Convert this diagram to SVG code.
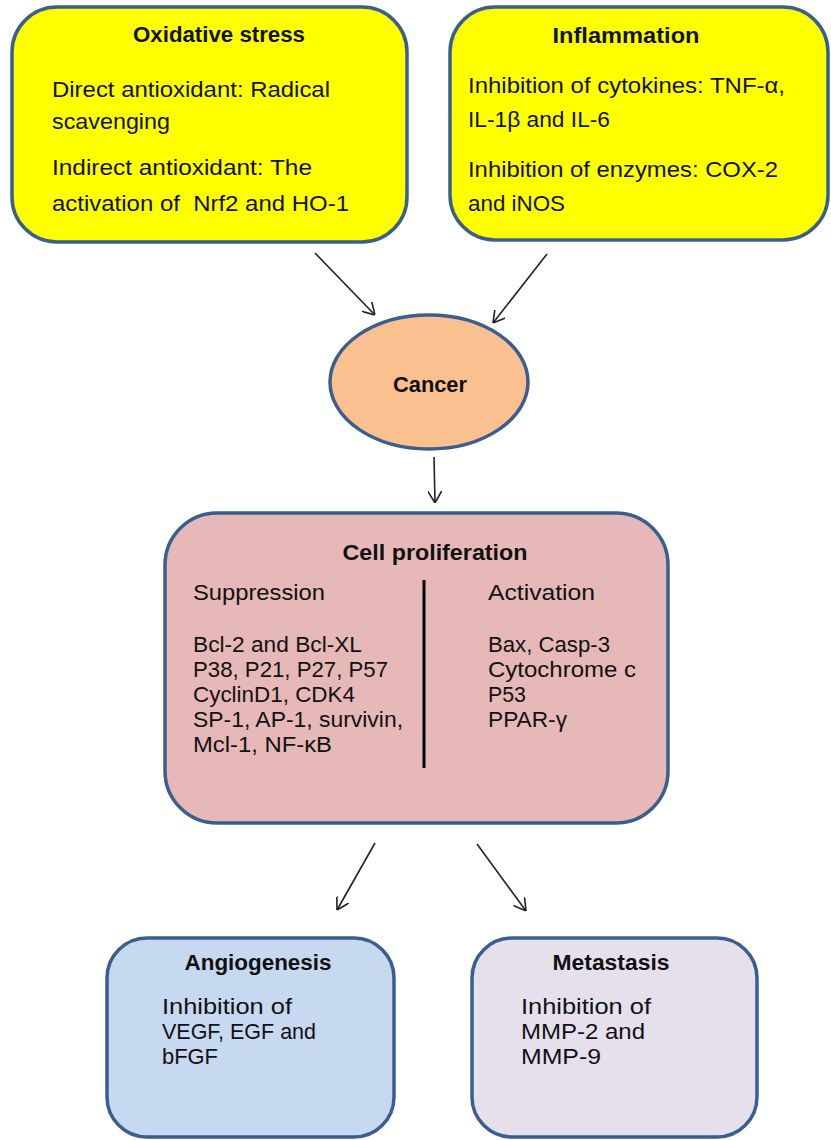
<svg xmlns="http://www.w3.org/2000/svg" width="831" height="1140" viewBox="0 0 831 1140">
<style>
.box{stroke:#3a5f8e;stroke-width:3.5}
.t{font-family:"Liberation Sans",Arial,sans-serif;font-size:22px;fill:#111}
.b{font-weight:bold;text-anchor:middle}
.conn line{stroke:#222;stroke-width:1.6;fill:none}
</style>
<defs>
<marker id="arr" viewBox="0 0 12 14" refX="12" refY="7" markerWidth="12" markerHeight="14" markerUnits="userSpaceOnUse" orient="auto">
<path d="M0,0 L12,7 L0,14" fill="none" stroke="#222" stroke-width="1.6"/>
</marker>
</defs>
<rect width="831" height="1140" fill="#fff"/>
<g id="oxidative">
<rect class="box" x="12" y="7" width="395" height="235" rx="45" fill="#ffff00"/>
<text class="t b" x="219" y="42" textLength="172" lengthAdjust="spacingAndGlyphs">Oxidative stress</text>
<text class="t" x="52" y="97" textLength="278" lengthAdjust="spacingAndGlyphs">Direct antioxidant: Radical</text>
<text class="t" x="52" y="129" textLength="118" lengthAdjust="spacingAndGlyphs">scavenging</text>
<text class="t" x="52" y="175" textLength="260" lengthAdjust="spacingAndGlyphs">Indirect antioxidant: The</text>
<text class="t" x="52" y="211" textLength="297" lengthAdjust="spacingAndGlyphs" xml:space="preserve">activation of  Nrf2 and HO-1</text>
</g>
<g id="inflammation">
<rect class="box" x="450" y="7" width="378" height="233" rx="45" fill="#ffff00"/>
<text class="t b" x="626" y="43" textLength="147" lengthAdjust="spacingAndGlyphs">Inflammation</text>
<text class="t" x="468" y="93" textLength="317" lengthAdjust="spacingAndGlyphs">Inhibition of cytokines: TNF-α,</text>
<text class="t" x="468" y="127" textLength="142" lengthAdjust="spacingAndGlyphs">IL-1β and IL-6</text>
<text class="t" x="468" y="177" textLength="310" lengthAdjust="spacingAndGlyphs">Inhibition of enzymes: COX-2</text>
<text class="t" x="468" y="211" textLength="97" lengthAdjust="spacingAndGlyphs">and iNOS</text>
</g>
<g id="cancer">
<ellipse class="box" cx="429" cy="382" rx="99" ry="67" fill="#fac090"/>
<text class="t b" x="430" y="392" textLength="74" lengthAdjust="spacingAndGlyphs">Cancer</text>
</g>
<g id="cell-proliferation">
<rect class="box" x="165" y="513" width="503" height="310" rx="52" fill="#e6b9b8"/>
<text class="t b" x="435" y="560" textLength="185" lengthAdjust="spacingAndGlyphs">Cell proliferation</text>
<line x1="424" y1="580" x2="424" y2="768" stroke="#000" stroke-width="3"/>
<text class="t" x="193" y="600" textLength="132" lengthAdjust="spacingAndGlyphs">Suppression</text>
<text class="t" x="193" y="652" textLength="169" lengthAdjust="spacingAndGlyphs">Bcl-2 and Bcl-XL</text>
<text class="t" x="193" y="677" textLength="195" lengthAdjust="spacingAndGlyphs">P38, P21, P27, P57</text>
<text class="t" x="193" y="702" textLength="162" lengthAdjust="spacingAndGlyphs">CyclinD1, CDK4</text>
<text class="t" x="193" y="727" textLength="210" lengthAdjust="spacingAndGlyphs">SP-1, AP-1, survivin,</text>
<text class="t" x="193" y="752" textLength="139" lengthAdjust="spacingAndGlyphs">Mcl-1, NF-κB</text>
<text class="t" x="488" y="600" textLength="107" lengthAdjust="spacingAndGlyphs">Activation</text>
<text class="t" x="488" y="652" textLength="122" lengthAdjust="spacingAndGlyphs">Bax, Casp-3</text>
<text class="t" x="488" y="677" textLength="148" lengthAdjust="spacingAndGlyphs">Cytochrome c</text>
<text class="t" x="488" y="702" textLength="38" lengthAdjust="spacingAndGlyphs">P53</text>
<text class="t" x="488" y="727" textLength="79" lengthAdjust="spacingAndGlyphs">PPAR-γ</text>
</g>
<g id="angiogenesis">
<rect class="box" x="107" y="938" width="287" height="199" rx="40" fill="#c6d9f1"/>
<text class="t b" x="258" y="970" textLength="147" lengthAdjust="spacingAndGlyphs">Angiogenesis</text>
<text class="t" x="162" y="1014" textLength="130" lengthAdjust="spacingAndGlyphs">Inhibition of</text>
<text class="t" x="162" y="1039" textLength="154" lengthAdjust="spacingAndGlyphs">VEGF, EGF and</text>
<text class="t" x="162" y="1064" textLength="56" lengthAdjust="spacingAndGlyphs">bFGF</text>
</g>
<g id="metastasis">
<rect class="box" x="472" y="938" width="285" height="199" rx="40" fill="#e6e0ec"/>
<text class="t b" x="611" y="970" textLength="117" lengthAdjust="spacingAndGlyphs">Metastasis</text>
<text class="t" x="521" y="1014" textLength="130" lengthAdjust="spacingAndGlyphs">Inhibition of</text>
<text class="t" x="521" y="1039" textLength="124" lengthAdjust="spacingAndGlyphs">MMP-2 and</text>
<text class="t" x="521" y="1064" textLength="80" lengthAdjust="spacingAndGlyphs">MMP-9</text>
</g>
<g id="connectors" class="conn">
<line x1="315" y1="253" x2="375" y2="315" marker-end="url(#arr)"/>
<line x1="547" y1="254" x2="493" y2="323" marker-end="url(#arr)"/>
<line x1="434" y1="457" x2="435" y2="503" marker-end="url(#arr)"/>
<line x1="375" y1="843" x2="337" y2="910" marker-end="url(#arr)"/>
<line x1="477" y1="844" x2="526" y2="911" marker-end="url(#arr)"/>
</g>
</svg>
